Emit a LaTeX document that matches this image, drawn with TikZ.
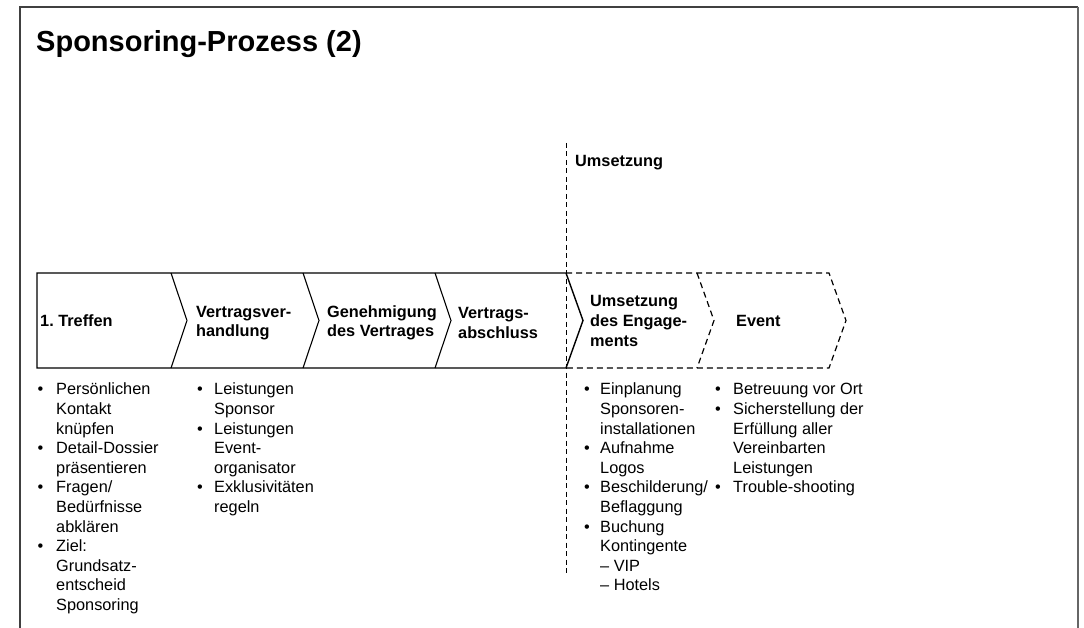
\documentclass[tikz,border=0pt]{standalone}
\usepackage{fontspec}
\setmainfont{Liberation Sans}
\newcommand{\bodyfont}{\fontsize{16.3}{19.6}\selectfont\frenchspacing}
\begin{document}
\begin{tikzpicture}[x=1pt,y=-1pt,
  frameline/.style={draw=black!75,line width=1.4pt},
  chevsolid/.style={draw=black,line width=1.4pt,line join=miter},
  notch/.style={draw=black,line width=1.1pt},
  chevdash/.style={draw=black,line width=1.2pt,dash pattern=on 6pt off 4pt},
  steplabel/.style={anchor=west,inner sep=0pt,align=left,font=\bodyfont\bfseries},
  bulletlist/.style={anchor=north west,inner sep=0pt,font=\bodyfont},
  titletext/.style={anchor=base west,inner sep=0pt,font=\fontsize{29}{34}\selectfont\bfseries}
]
\useasboundingbox (0,0) rectangle (1084,628);
% frame
\draw[frameline] (20,628) -- (20,7) -- (1078,7);
\draw[draw=black!60,line width=2.2pt] (1078,7) -- (1078,628);
% title
\node[titletext] (title) at (36,52) {Sponsoring-Prozess (2)};
% Umsetzung label and divider
\node[anchor=base west,inner sep=0pt,font=\bodyfont\bfseries] (umsetzlabel) at (575,167) {Umsetzung};
\coordinate (divtop) at (566,143);
\coordinate (divbot) at (566,575);
\draw[chevdash,line width=1pt,dash pattern=on 5pt off 3.5pt] (divtop) -- (divbot);
% solid chevron strip
\draw[chevsolid] (37,273) -- (566,273) -- (583,320.5) -- (566,368) -- (37,368) -- cycle;
\draw[notch] (171,273) -- (187,320.5) -- (171,368);
\draw[notch] (303,273) -- (319,320.5) -- (303,368);
\draw[notch] (435,273) -- (451,320.5) -- (435,368);
% dashed chevrons
\draw[chevdash] (566,273) -- (829,273) -- (846,320.5) -- (829,368) -- (566,368);
\draw[chevdash] (697,273) -- (714,320.5) -- (697,368);
% step labels
\node[steplabel] (s1) at (40,320.5) {1. Treffen};
\node[steplabel] (s2) at (196,323) {Vertragsver-\\handlung};
\node[steplabel] (s3) at (327,323) {Genehmigung\\des Vertrages};
\node[steplabel] (s4) at (458,323) {Vertrags-\\abschluss};
\node[steplabel] (s5) at (590,321) {Umsetzung\\des Engage-\\ments};
\node[steplabel] (s6) at (736,320.5) {Event};
% bullet lists
\node[bulletlist] (l1) at (37.5,381) {\begin{tabular}{@{}p{18.5pt}@{}l@{}}
• & Persönlichen\\ & Kontakt\\ & knüpfen\\
• & Detail-Dossier\\ & präsentieren\\
• & Fragen/\\ & Bedürfnisse\\ & abklären\\
• & Ziel:\\ & Grundsatz-\\ & entscheid\\ & Sponsoring
\end{tabular}};
\node[bulletlist] (l2) at (197,381) {\begin{tabular}{@{}p{17pt}@{}l@{}}
• & Leistungen\\ & Sponsor\\
• & Leistungen\\ & Event-\\ & organisator\\
• & Exklusivitäten\\ & regeln
\end{tabular}};
\node[bulletlist] (l3) at (584,381) {\begin{tabular}{@{}p{16pt}@{}l@{}}
• & Einplanung\\ & Sponsoren-\\ & installationen\\
• & Aufnahme\\ & Logos\\
• & Beschilderung/\\ & Beflaggung\\
• & Buchung\\ & Kontingente\\ & – VIP\\ & – Hotels
\end{tabular}};
\node[bulletlist] (l4) at (715,381) {\begin{tabular}{@{}p{18pt}@{}l@{}}
• & Betreuung vor Ort\\
• & Sicherstellung der\\ & Erfüllung aller\\ & Vereinbarten\\ & Leistungen\\
• & Trouble-shooting
\end{tabular}};
\end{tikzpicture}
\end{document}
